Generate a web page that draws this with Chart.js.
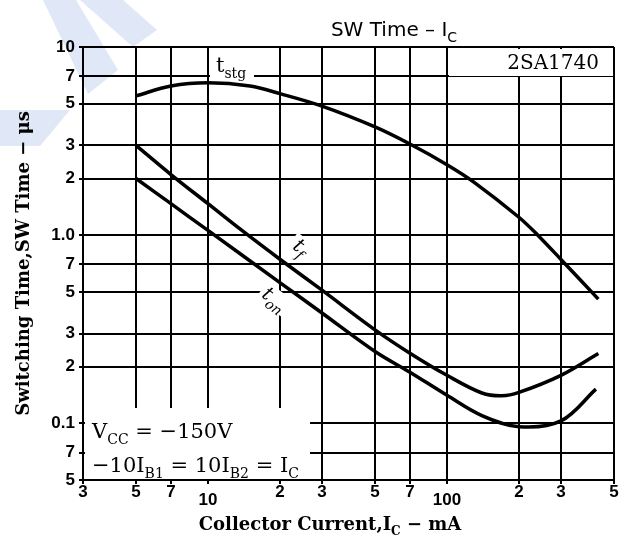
<!DOCTYPE html>
<html>
<head>
<meta charset="utf-8">
<script src="https://cdn.jsdelivr.net/npm/chart.js@4.4.1/dist/chart.umd.min.js"></script>
<style>
  body { margin: 0; background: #fff; }
</style>
</head>
<body>
<canvas id="chartCanvas" width="630" height="543"></canvas>
<script>
// axis ticks
const currentTicks = [3, 5, 7, 10, 20, 30, 50, 70, 100, 200, 300, 500];
const currentTickLabels = ['3', '5', '7', '10', '2', '3', '5', '7', '100', '2', '3', '5'];
const timeTicks = [0.05, 0.07, 0.1, 0.2, 0.3, 0.5, 0.7, 1, 2, 3, 5, 7, 10];
const timeTickLabels = ['5', '7', '0.1', '2', '3', '5', '7', '1.0', '2', '3', '5', '7', '10'];

// curves (Ic in mA, time in us)
const tstgCurrent = [5, 7, 10, 15, 20, 30, 50, 70, 100, 130, 200, 240, 300, 430];
const tstgTime = [5.5, 6.2, 6.45, 6.2, 5.65, 4.85, 3.76, 3.05, 2.37, 1.91, 1.245, 1.0, 0.743, 0.457];
const tfCurrent = [5, 7, 10, 14, 20, 30, 50, 70, 100, 140, 170, 200, 300, 430];
const tfTime = [3.0, 2.1, 1.47, 1.05, 0.745, 0.51, 0.314, 0.236, 0.18, 0.145, 0.14, 0.146, 0.18, 0.235];
const tonCurrent = [5, 7, 10, 20, 30, 50, 70, 100, 140, 200, 300, 420];
const tonTime = [2.0, 1.47, 1.06, 0.56, 0.386, 0.241, 0.187, 0.141, 0.11, 0.096, 0.103, 0.152];

function pts(xs, ys) {
    return xs.map((x, i) => ({x: x, y: ys[i]}));
}

function curve(label, xs, ys) {
    return {
        label: label,
        data: pts(xs, ys),
        borderColor: '#000',
        borderWidth: 3.5,
        pointRadius: 0,
        tension: 0.35,
        fill: false
    };
}

const serif = (s, st) => (st || '') + ' ' + s + 'px "DejaVu Serif"';
const sans = (s) => s + 'px "DejaVu Sans"';

// text with subscripts: parts = [[text, isSub], ...]
function drawRich(ctx, parts, x, y, size, face, align) {
    const sub = Math.round(size * 0.68);
    const widths = parts.map(p => {
        ctx.font = face(p[1] ? sub : size);
        return ctx.measureText(p[0]).width;
    });
    const total = widths.reduce((a, b) => a + b, 0);
    let cx = align === 'center' ? x - total / 2 : (align === 'right' ? x - total : x);
    ctx.textAlign = 'left';
    ctx.textBaseline = 'alphabetic';
    parts.forEach((p, i) => {
        ctx.font = face(p[1] ? sub : size);
        ctx.fillText(p[0], cx, y + (p[1] ? size * 0.28 : 0));
        cx += widths[i];
    });
    return total;
}

function poly(ctx, list) {
    ctx.beginPath();
    ctx.moveTo(list[0][0], list[0][1]);
    for (let i = 1; i < list.length; i++) ctx.lineTo(list[i][0], list[i][1]);
    ctx.closePath();
    ctx.fill();
}

const decor = {
    id: 'decor',
    beforeDraw(chart) {
        const ctx = chart.ctx;
        ctx.save();
        ctx.fillStyle = '#fff';
        ctx.fillRect(0, 0, chart.width, chart.height);
        // pale watermark stripes from the scan
        ctx.fillStyle = 'rgb(224,231,246)';
        poly(ctx, [[43, 0], [76, 0], [118, 70], [88, 94]]);
        poly(ctx, [[80, 0], [123, 0], [157, 30], [133, 47]]);
        poly(ctx, [[0, 110], [70, 110], [40, 146], [0, 146]]);
        ctx.restore();
    },
    beforeDatasetsDraw(chart) {
        const ctx = chart.ctx;
        ctx.save();
        ctx.fillStyle = '#fff';
        ctx.fillRect(85, 408, 225, 71);   // conditions box
        ctx.fillRect(449, 49, 164, 27);   // part number box
        ctx.fillRect(210, 49, 44, 31);    // t_stg label
        ctx.translate(300, 248);
        ctx.rotate(37 * Math.PI / 180);
        ctx.fillRect(-11, -11, 22, 20);
        ctx.restore();
        ctx.save();
        ctx.fillStyle = '#fff';
        ctx.translate(274, 300);
        ctx.rotate(37 * Math.PI / 180);
        ctx.fillRect(-16, -11, 32, 20);
        ctx.restore();
    },
    afterDatasetsDraw(chart) {
        const ctx = chart.ctx;
        ctx.save();
        ctx.fillStyle = '#000';
        // title
        drawRich(ctx, [['SW Time \u2013 I'], ['C', 1]], 394, 36, 20, sans, 'center');
        // part number
        drawRich(ctx, [['2SA1740']], 599, 69, 20, s => serif(s), 'right');
        // curve labels
        drawRich(ctx, [['t'], ['stg', 1]], 216, 72, 21, s => serif(s), 'left');
        ctx.save();
        ctx.translate(300, 248);
        ctx.rotate(37 * Math.PI / 180);
        drawRich(ctx, [['t'], ['f', 1]], 0, 5, 20, s => serif(s, 'italic'), 'center');
        ctx.restore();
        ctx.save();
        ctx.translate(274, 300);
        ctx.rotate(37 * Math.PI / 180);
        drawRich(ctx, [['t'], ['on', 1]], 0, 5, 20, s => serif(s, 'italic'), 'center');
        ctx.restore();
        // test conditions
        drawRich(ctx, [['V'], ['CC', 1], [' = \u2212150V']], 92, 438, 21, s => serif(s), 'left');
        drawRich(ctx, [['\u221210I'], ['B1', 1], [' = 10I'], ['B2', 1], [' = I'], ['C', 1]], 92, 472, 21, s => serif(s), 'left');
        // x axis title
        drawRich(ctx, [['Collector Current,I'], ['C', 1], [' \u2212 mA']], 330, 530, 18, s => serif(s, 'bold'), 'center');
        ctx.restore();
    }
};

const data = {
    datasets: [
        curve('tstg', tstgCurrent, tstgTime),
        curve('tf', tfCurrent, tfTime),
        curve('ton', tonCurrent, tonTime)
    ]
};

const tickFont = {family: '"Liberation Sans"', size: 17, weight: 'bold', lineHeight: 1};

const config = {
    type: 'line',
    data: data,
    options: {
        responsive: false,
        animation: false,
        layout: {padding: {left: 0, top: 47, right: 16, bottom: 0}},
        plugins: {
            legend: {display: false},
            tooltip: {enabled: false}
        },
        scales: {
            x: {
                type: 'logarithmic',
                min: 3,
                max: 500,
                afterBuildTicks: (scale) => { scale.ticks = currentTicks.map(v => ({value: v})); },
                afterFit: (scale) => { scale.height = 63; },
                grid: {color: '#000', lineWidth: 2, tickLength: 4, tickColor: '#000'},
                border: {color: '#000', width: 2},
                ticks: {
                    autoSkip: false,
                    maxRotation: 0,
                    padding: 0,
                    color: '#000',
                    font: (c) => (c.tick && (c.tick.value === 10 || c.tick.value === 100))
                        ? {family: '"Liberation Sans"', size: 17, weight: 'bold', lineHeight: '11px'}
                        : tickFont,
                    callback: (v, i) => (currentTicks[i] === 10 || currentTicks[i] === 100)
                        ? ['', currentTickLabels[i]] : currentTickLabels[i]
                }
            },
            y: {
                type: 'logarithmic',
                min: 0.05,
                max: 10,
                afterBuildTicks: (scale) => { scale.ticks = timeTicks.map(v => ({value: v})); },
                afterFit: (scale) => { scale.width = 83; },
                grid: {color: '#000', lineWidth: 2, tickLength: 4, tickColor: '#000'},
                border: {color: '#000', width: 2},
                ticks: {
                    autoSkip: false,
                    padding: 4,
                    color: '#000',
                    font: tickFont,
                    callback: (v, i) => timeTickLabels[i]
                },
                title: {
                    display: true,
                    text: 'Switching Time,SW Time \u2212 \u03bcs',
                    color: '#000',
                    font: {family: '"DejaVu Serif"', size: 18, weight: 'bold', lineHeight: 1.2},
                    padding: {top: 14, bottom: 0}
                }
            }
        }
    },
    plugins: [decor]
};

let myChart = new Chart(document.getElementById('chartCanvas'), config);
</script>
</body>
</html>
